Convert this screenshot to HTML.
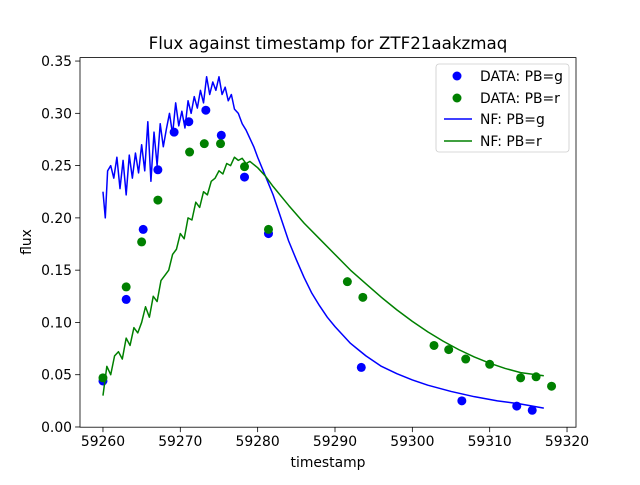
<!DOCTYPE html>
<html><head><meta charset="utf-8"><style>
body{margin:0;background:#fff}
svg text{font-family:"DejaVu Sans","Liberation Sans",sans-serif}
</style></head><body>
<svg id="chart" width="640" height="480">
<rect width="640" height="480" fill="#fff"/>
<text x="328" y="49" text-anchor="middle" font-size="16.7">Flux against timestamp for ZTF21aakzmaq</text>
<g id="axes"></g>
<g id="series"></g>
<rect x="80" y="57.6" width="496" height="369.6" fill="none" stroke="#000" stroke-width="0.8"/>
<text x="328" y="467" text-anchor="middle" font-size="13.9">timestamp</text>
<text transform="translate(31,242) rotate(-90)" text-anchor="middle" font-size="13.9">flux</text>
<g id="legend">
<rect x="436" y="64" width="133" height="88" rx="3" fill="#fff" fill-opacity="0.8" stroke="#ccc" stroke-width="0.8"/>
<circle cx="457" cy="76" r="4.5" fill="blue"/>
<text x="480" y="81" font-size="13.9">DATA: PB=g</text>
<circle cx="457" cy="98" r="4.5" fill="green"/>
<text x="480" y="103" font-size="13.9">DATA: PB=r</text>
<line x1="444" y1="119" x2="472" y2="119" stroke="blue" stroke-width="1.5"/>
<text x="480" y="124" font-size="13.9">NF: PB=g</text>
<line x1="444" y1="141" x2="472" y2="141" stroke="green" stroke-width="1.5"/>
<text x="480" y="146" font-size="13.9">NF: PB=r</text>
</g>
</svg>
<script>
const xTicks=[59260,59270,59280,59290,59300,59310,59320];
const yTicks=[0,0.05,0.10,0.15,0.20,0.25,0.30,0.35];
const gDataX=[59260.0,59263.0,59265.2,59267.1,59269.2,59271.1,59273.3,59275.3,59278.3,59281.4,59293.4,59306.4,59313.5,59315.5];
const gDataY=[0.044,0.122,0.189,0.246,0.282,0.292,0.303,0.279,0.239,0.185,0.057,0.025,0.020,0.016];
const rDataX=[59260.0,59263.0,59265.0,59267.1,59271.2,59273.1,59275.2,59278.3,59281.4,59291.6,59293.6,59302.8,59304.7,59306.9,59310.0,59314.0,59316.0,59318.0];
const rDataY=[0.047,0.134,0.177,0.217,0.263,0.271,0.271,0.249,0.189,0.139,0.124,0.078,0.074,0.065,0.060,0.047,0.048,0.039];
const gLineX=[59260,59260.3,59260.6,59261,59261.4,59261.8,59262.2,59262.6,59263,59263.4,59263.8,59264.2,59264.6,59265,59265.4,59265.8,59266.2,59266.6,59267,59267.4,59267.8,59268.2,59268.6,59269,59269.4,59269.8,59270.2,59270.6,59271,59271.4,59271.8,59272.2,59272.6,59273,59273.4,59273.8,59274.2,59274.6,59275,59275.4,59275.8,59276.2,59276.6,59277,59277.5,59278,59278.5,59279,59279.5,59280,59281,59282,59283,59284,59285,59286,59287,59288,59289,59290,59291,59292,59293,59294,59296,59298,59300,59302,59305,59308,59311,59314,59317];
const gLineY=[0.225,0.200,0.245,0.250,0.238,0.258,0.228,0.255,0.222,0.260,0.238,0.262,0.243,0.270,0.245,0.292,0.235,0.282,0.250,0.290,0.268,0.285,0.300,0.280,0.310,0.288,0.302,0.286,0.312,0.300,0.316,0.305,0.322,0.310,0.335,0.318,0.330,0.322,0.335,0.318,0.325,0.312,0.318,0.304,0.300,0.290,0.284,0.276,0.268,0.258,0.240,0.222,0.200,0.178,0.160,0.143,0.128,0.116,0.105,0.096,0.088,0.080,0.074,0.068,0.058,0.051,0.045,0.040,0.034,0.029,0.025,0.022,0.018];
const rLineX=[59260,59260.5,59261,59261.5,59262,59262.5,59263,59263.5,59264,59264.5,59265,59265.5,59266,59266.5,59267,59267.5,59268,59268.5,59269,59269.5,59270,59270.5,59271,59271.5,59272,59272.5,59273,59273.5,59274,59274.5,59275,59275.5,59276,59276.5,59277,59277.5,59278,59278.5,59279,59280,59281,59282,59284,59286,59288,59290,59292,59294,59296,59298,59300,59302,59304,59306,59308,59310,59312,59314,59317];
const rLineY=[0.030,0.058,0.050,0.068,0.072,0.065,0.085,0.078,0.095,0.090,0.100,0.115,0.105,0.125,0.120,0.140,0.145,0.150,0.165,0.170,0.185,0.180,0.200,0.198,0.215,0.210,0.225,0.222,0.235,0.238,0.245,0.242,0.252,0.250,0.258,0.255,0.257,0.252,0.254,0.248,0.240,0.230,0.212,0.195,0.180,0.165,0.150,0.137,0.124,0.112,0.101,0.091,0.082,0.074,0.067,0.061,0.056,0.052,0.049];
const X0=59257.03,X1=59321.16,Y0=-0.0002,Y1=0.3533;
const L=80,R=576,T=57.6,B=427.2;
function sx(v){return L+(v-X0)/(X1-X0)*(R-L);}
function sy(v){return B-(v-Y0)/(Y1-Y0)*(B-T);}
const NS='http://www.w3.org/2000/svg';
const axes=document.getElementById('axes'),series=document.getElementById('series');
function mk(tag,attrs,parent){const e=document.createElementNS(NS,tag);for(const k in attrs)e.setAttribute(k,attrs[k]);parent.appendChild(e);return e;}
xTicks.forEach(v=>{
  const t=mk('line',{x1:sx(v),x2:sx(v),y1:B,y2:B+4.9,stroke:'#000','stroke-width':0.8},axes);
  
  
  const l=mk('text',{x:sx(v),y:B+19,'text-anchor':'middle','font-size':13.9},axes);
  l.textContent=v;
  
  
});
yTicks.forEach(v=>{
  const t=mk('line',{x1:L-4.9,x2:L,y1:sy(v),y2:sy(v),stroke:'#000','stroke-width':0.8},axes);
  
  
  const l=mk('text',{x:L-8,y:sy(v)+5,'text-anchor':'end','font-size':13.9},axes);
  l.textContent=v.toFixed(2);
  
  
});
function line(xs,ys,color,name){
  const p=mk('polyline',{points:xs.map((x,i)=>sx(x)+','+sy(ys[i])).join(' '),fill:'none',stroke:color,'stroke-width':1.5,'stroke-linejoin':'round'},series);
  
  
}
function pts(xs,ys,color,name){
  xs.forEach((x,i)=>{
    const c=mk('circle',{cx:sx(x),cy:sy(ys[i]),r:4.5,fill:color},series);
    
    
  });
}
pts(gDataX,gDataY,'blue','data-point-g');
pts(rDataX,rDataY,'green','data-point-r');
line(gLineX,gLineY,'blue','nf-line-g');
line(rLineX,rLineY,'green','nf-line-r');
</script>
</body></html>
